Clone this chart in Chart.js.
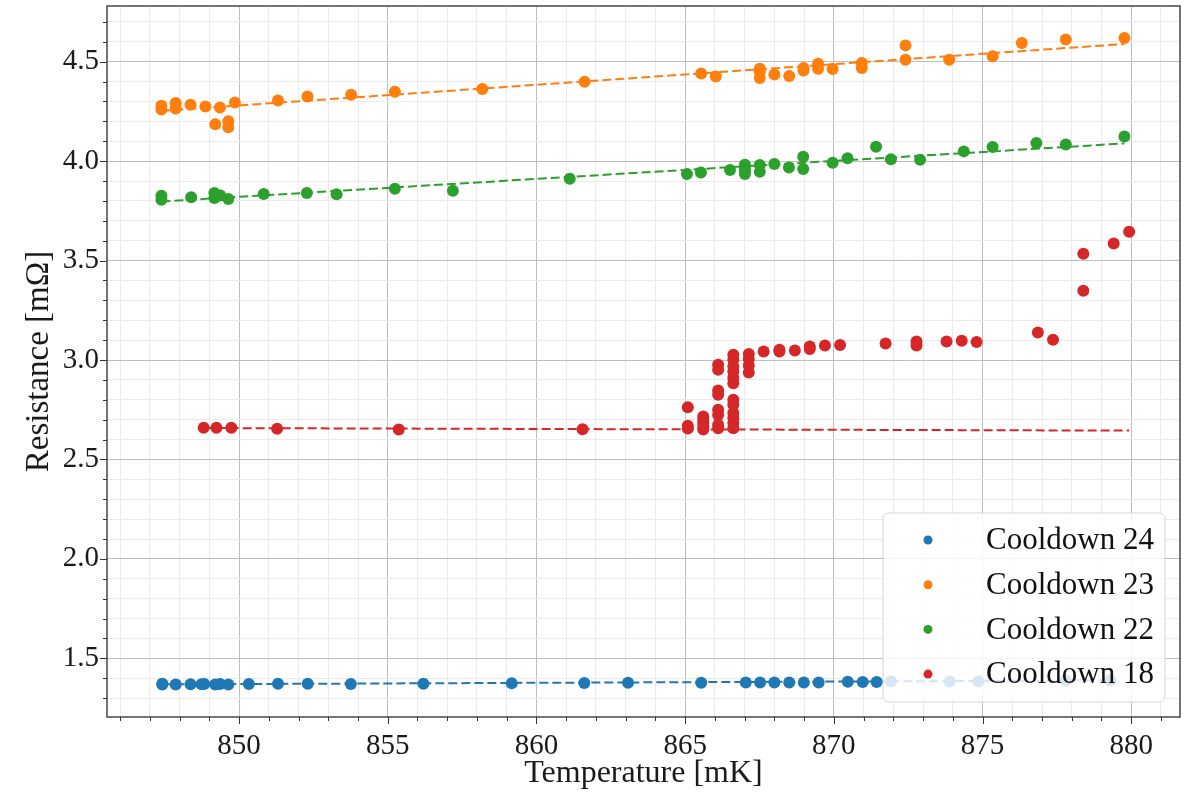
<!DOCTYPE html>
<html><head><meta charset="utf-8">
<script src="https://cdn.jsdelivr.net/npm/chart.js@4"></script>
<style>html,body{margin:0;padding:0;background:#fff;}canvas{display:block;}</style>
</head><body>
<canvas id="c" width="1186" height="793"></canvas>
<script>
// ---------- data ----------
const seriesLabels = ['Cooldown 24', 'Cooldown 23', 'Cooldown 22', 'Cooldown 18'];
const seriesColors = ['#1f77b4', '#ff7f0e', '#2ca02c', '#d62728'];

const c24T = [847.42, 847.42, 847.87, 848.37, 848.74, 848.83, 849.20, 849.36, 849.64, 850.33, 851.31, 852.31, 853.76, 856.20, 859.17, 861.61, 863.08, 865.54, 867.04, 867.52, 868.00, 868.50, 868.99, 869.49, 870.47, 870.97, 871.44, 871.92, 873.90, 874.86, 877.80, 879.30];
const c24R = [1.368, 1.372, 1.369, 1.370, 1.370, 1.371, 1.369, 1.371, 1.369, 1.371, 1.372, 1.372, 1.371, 1.372, 1.375, 1.376, 1.377, 1.377, 1.378, 1.378, 1.379, 1.378, 1.379, 1.379, 1.382, 1.381, 1.381, 1.383, 1.384, 1.385, 1.388, 1.390];

const c23T = [847.39, 847.39, 847.87, 847.87, 848.37, 848.87, 849.20, 849.36, 849.64, 849.64, 849.86, 851.31, 852.30, 853.77, 855.24, 858.18, 861.62, 865.54, 866.03, 867.51, 867.51, 867.51, 868.00, 868.50, 868.98, 868.98, 869.47, 869.47, 869.96, 870.94, 870.94, 872.41, 872.41, 873.88, 875.34, 876.32, 877.80, 879.77];
const c23R = [4.279, 4.259, 4.292, 4.264, 4.284, 4.275, 4.185, 4.270, 4.200, 4.170, 4.295, 4.305, 4.325, 4.334, 4.349, 4.363, 4.399, 4.441, 4.426, 4.465, 4.450, 4.418, 4.435, 4.428, 4.468, 4.456, 4.490, 4.465, 4.463, 4.493, 4.468, 4.582, 4.510, 4.510, 4.527, 4.594, 4.611, 4.619];

const c22T = [847.39, 847.39, 848.39, 849.17, 849.17, 849.37, 849.64, 850.83, 852.28, 853.28, 855.24, 857.19, 861.12, 865.06, 865.53, 866.51, 867.01, 867.01, 867.01, 867.01, 867.51, 867.51, 868.00, 868.49, 868.97, 868.97, 869.96, 870.46, 871.42, 871.92, 872.90, 874.37, 875.34, 876.81, 877.80, 879.77];
const c22R = [3.826, 3.806, 3.818, 3.840, 3.814, 3.827, 3.809, 3.835, 3.840, 3.833, 3.861, 3.851, 3.911, 3.935, 3.943, 3.955, 3.982, 3.965, 3.948, 3.935, 3.980, 3.947, 3.985, 3.968, 4.022, 3.960, 3.992, 4.014, 4.072, 4.010, 4.007, 4.049, 4.071, 4.091, 4.084, 4.124];

const c18T = [848.81, 849.24, 849.74, 851.28, 855.37, 861.55,
  865.09, 865.09, 865.09,
  865.61, 865.61, 865.61, 865.61, 865.61,
  866.11, 866.11, 866.11, 866.11, 866.11, 866.11, 866.11, 866.11,
  866.62, 866.62, 866.62, 866.62, 866.62, 866.62, 866.62, 866.62, 866.62, 866.62, 866.62, 866.62,
  867.14, 867.14, 867.14, 867.14,
  867.64, 868.17, 868.17, 868.69, 869.19, 869.19, 869.70, 870.21, 871.74, 872.78, 872.78, 873.79, 874.30, 874.80, 876.86, 877.37, 878.39, 878.39, 879.41, 879.93];
const c18R = [2.659, 2.659, 2.659, 2.654, 2.650, 2.652,
  2.763, 2.669, 2.655,
  2.716, 2.700, 2.683, 2.666, 2.651,
  2.976, 2.951, 2.847, 2.825, 2.750, 2.724, 2.674, 2.657,
  3.026, 3.001, 2.967, 2.942, 2.909, 2.883, 2.800, 2.775, 2.733, 2.708, 2.683, 2.657,
  3.030, 3.005, 2.972, 2.937,
  3.043, 3.051, 3.043, 3.048, 3.068, 3.055, 3.073, 3.075, 3.083, 3.093, 3.073, 3.093, 3.097, 3.090, 3.138, 3.102, 3.534, 3.348, 3.586, 3.645];

// linear-fit end points
const fit24T = [847.42, 879.30], fit24R = [1.369, 1.389];
const fit23T = [847.39, 879.77], fit23R = [4.253, 4.589];
const fit22T = [847.39, 879.77], fit22R = [3.797, 4.089];
const fit18T = [848.81, 879.93], fit18R = [2.658, 2.645];

const xTickLabels = [850, 855, 860, 865, 870, 875, 880];
const yTickLabels = [1.5, 2.0, 2.5, 3.0, 3.5, 4.0, 4.5];
const xTitle = 'Temperature [mK]';
const yTitle = 'Resistance [m\u03A9]';

// ---------- chart ----------
const pts = (T, R) => T.map((t, i) => ({x: t, y: R[i]}));
const seriesT = [c24T, c23T, c22T, c18T];
const seriesR = [c24R, c23R, c22R, c18R];
const fitT = [fit24T, fit23T, fit22T, fit18T];
const fitR = [fit24R, fit23R, fit22R, fit18R];

const SERIF = "'Liberation Serif', 'DejaVu Serif', serif";
const isXMajor = v => xTickLabels.some(l => Math.abs(l - v) < 1e-6);
const isYMajor = v => yTickLabels.some(l => Math.abs(l - v) < 1e-6);

const datasets = [];
seriesLabels.forEach((lab, i) => {
  datasets.push({
    label: lab, data: pts(seriesT[i], seriesR[i]),
    backgroundColor: seriesColors[i], borderColor: seriesColors[i],
    pointRadius: 6, pointBorderWidth: 0, pointHoverRadius: 6, showLine: false
  });
});
seriesLabels.forEach((lab, i) => {
  datasets.push({
    label: lab + ' fit', data: pts(fitT[i], fitR[i]),
    borderColor: seriesColors[i], backgroundColor: seriesColors[i],
    showLine: true, pointRadius: 0, borderWidth: 2, borderDash: [9, 4]
  });
});

const framePlugin = {
  id: 'frameTicks',
  afterDraw(chart) {
    const {ctx, chartArea: a, scales} = chart;
    ctx.save();
    ctx.strokeStyle = '#333';
    ctx.lineWidth = 1;
    scales.x.ticks.forEach(t => {
      const px = Math.round(scales.x.getPixelForValue(t.value)) + 0.5;
      const len = isXMajor(t.value) ? 7 : 4;
      ctx.beginPath(); ctx.moveTo(px, a.bottom); ctx.lineTo(px, a.bottom + len); ctx.stroke();
    });
    scales.y.ticks.forEach(t => {
      const py = Math.round(scales.y.getPixelForValue(t.value)) + 0.5;
      const len = isYMajor(t.value) ? 7 : 4;
      ctx.beginPath(); ctx.moveTo(a.left, py); ctx.lineTo(a.left - len, py); ctx.stroke();
    });
    ctx.lineWidth = 1.4;
    ctx.strokeStyle = '#3a3a3a';
    ctx.strokeRect(a.left, a.top, a.right - a.left, a.bottom - a.top);
    // legend
    const lx = 883, ly = 513, lw = 282, lh = 189;
    ctx.beginPath();
    ctx.roundRect(lx, ly, lw, lh, 6);
    ctx.fillStyle = 'rgba(255,255,255,0.82)';
    ctx.fill();
    ctx.lineWidth = 1;
    ctx.strokeStyle = 'rgba(210,210,210,0.9)';
    ctx.stroke();
    ctx.font = '31px ' + SERIF;
    ctx.textBaseline = 'middle';
    ctx.textAlign = 'left';
    seriesLabels.forEach((lab, i) => {
      const cy = 540 + i * 44.7;
      ctx.beginPath();
      ctx.arc(928, cy, 4.5, 0, Math.PI * 2);
      ctx.fillStyle = seriesColors[i];
      ctx.fill();
      ctx.fillStyle = '#111';
      ctx.fillText(lab, 986, cy + 1);
    });
    ctx.restore();
  }
};

new Chart(document.getElementById('c'), {
  type: 'scatter',
  data: {datasets},
  options: {
    responsive: false, animation: false, devicePixelRatio: 1,
    layout: {padding: {top: 6, right: 4, left: 0, bottom: 0}},
    plugins: {legend: {display: false}, tooltip: {enabled: false}},
    scales: {
      x: {
        type: 'linear', min: 845.56, max: 881.64,
        afterFit: s => { s.height = 76; s.paddingLeft = 0; s.paddingRight = 0; },
        border: {display: false},
        grid: {
          drawTicks: false,
          color: c => isXMajor(c.tick.value) ? '#bfbfbf' : '#ebebeb',
          lineWidth: 1
        },
        ticks: {
          stepSize: 1, includeBounds: false, autoSkip: false, maxRotation: 0, maxTicksLimit: 1000,
          padding: 12, color: '#1a1a1a', font: {family: SERIF, size: 29},
          callback: v => isXMajor(v) ? String(Math.round(v)) : ''
        },
        title: {display: true, text: xTitle, color: '#1a1a1a', font: {family: SERIF, size: 32}, padding: {top: 0, bottom: 0}}
      },
      y: {
        type: 'linear', min: 1.205, max: 4.78,
        afterFit: s => { s.width = 107; s.paddingTop = 0; s.paddingBottom = 0; },
        border: {display: false},
        grid: {
          drawTicks: false,
          color: c => isYMajor(c.tick.value) ? '#bfbfbf' : '#ebebeb',
          lineWidth: 1
        },
        ticks: {
          stepSize: 0.1, includeBounds: false, autoSkip: false, maxTicksLimit: 1000,
          padding: 8, color: '#1a1a1a', font: {family: SERIF, size: 29},
          callback: v => isYMajor(v) ? Number(v).toFixed(1) : ''
        },
        title: {display: true, text: yTitle, color: '#1a1a1a', font: {family: SERIF, size: 33}, padding: {top: 20, bottom: 0}}
      }
    }
  },
  plugins: [framePlugin]
});
</script>
</body></html>
